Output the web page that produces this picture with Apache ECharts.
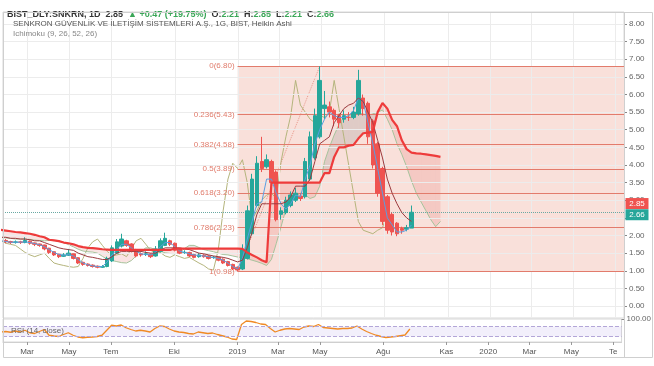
<!DOCTYPE html>
<html><head><meta charset="utf-8">
<script src="https://cdn.jsdelivr.net/npm/echarts@6/dist/echarts.min.js"></script>
<style>html,body{margin:0;padding:0;background:#fff}#c{width:654px;height:366px}</style>
</head><body><div id="c"></div>
<script>
// ---- data (weekly samples, first week 2018-01-22) ----
const firstWeek = '2018-01-22';
const haOpen = [1.88,1.86,1.83,1.80,1.82,1.80,1.84,1.79,1.76,1.73,
  1.64,1.54,1.47,1.41,1.44,1.48,1.37,1.24,1.19,1.16,
  1.13,1.10,1.12,1.28,1.50,1.70,1.85,1.76,1.60,1.48,
  1.46,1.47,1.42,1.55,1.72,1.85,1.78,1.62,1.52,1.52,
  1.46,1.40,1.44,1.42,1.38,1.38,1.33,1.26,1.18,1.10,
  1.05,1.35,2.05,2.85,4.10,3.95,4.10,3.80,2.60,2.65,
  2.85,3.00,3.12,3.10,3.60,4.20,4.80,5.60,5.65,5.55,
  5.40,5.30,5.35,5.35,5.45,5.90,5.75,5.25,4.60,3.90,
  3.10,2.60,2.35,2.20,2.18,2.21];
const haClose = [1.85,1.82,1.80,1.82,1.80,1.86,1.78,1.75,1.72,1.62,
  1.52,1.45,1.40,1.45,1.50,1.35,1.22,1.18,1.15,1.12,
  1.10,1.12,1.35,1.65,1.82,1.90,1.72,1.55,1.42,1.45,
  1.48,1.40,1.62,1.85,1.92,1.75,1.58,1.50,1.52,1.42,
  1.38,1.45,1.40,1.35,1.38,1.30,1.22,1.15,1.05,1.02,
  1.60,2.70,3.60,4.05,3.90,4.15,3.50,2.45,2.70,3.00,
  3.15,3.20,3.05,4.10,4.80,5.40,6.40,5.70,5.50,5.30,
  5.20,5.40,5.35,5.50,6.40,5.60,4.80,4.00,3.20,2.40,
  2.15,2.10,2.05,2.15,2.22,2.66];
const haLow = [1.80,1.78,1.76,1.77,1.76,1.78,1.74,1.70,1.68,1.58,
  1.48,1.42,1.36,1.39,1.42,1.32,1.19,1.14,1.12,1.09,
  1.07,1.08,1.10,1.25,1.48,1.66,1.68,1.52,1.38,1.40,
  1.42,1.36,1.40,1.52,1.70,1.70,1.55,1.47,1.48,1.39,
  1.35,1.37,1.37,1.32,1.34,1.27,1.19,1.12,1.02,0.98,
  1.02,1.32,2.00,2.80,3.80,3.90,3.40,2.40,2.45,2.60,
  2.80,2.95,2.98,3.05,3.55,4.15,4.75,5.30,5.35,5.10,
  5.05,5.20,5.25,5.30,5.40,5.40,4.60,3.90,3.10,2.30,
  2.05,2.00,1.98,2.05,2.12,2.21];
const haHigh = [1.92,1.90,1.85,1.86,1.85,1.95,1.86,1.80,1.77,1.74,
  1.65,1.55,1.48,1.50,1.62,1.49,1.38,1.26,1.21,1.18,
  1.15,1.16,1.40,1.72,1.90,2.05,1.88,1.78,1.62,1.52,
  1.55,1.49,1.70,1.92,2.08,1.88,1.80,1.64,1.58,1.54,
  1.48,1.50,1.47,1.44,1.42,1.40,1.35,1.28,1.20,1.12,
  1.75,2.85,3.75,4.25,4.80,4.30,4.15,3.85,2.80,3.10,
  3.25,3.35,3.20,4.20,4.95,5.60,6.80,6.10,5.80,5.60,
  5.45,5.55,5.50,5.65,6.70,6.00,5.80,5.30,4.65,3.95,
  3.15,2.65,2.38,2.25,2.30,2.85];
const tenkan = [1.85,1.83,1.81,1.81,1.81,1.82,1.80,1.77,1.74,1.68,
  1.60,1.52,1.46,1.44,1.46,1.42,1.32,1.22,1.17,1.14,
  1.12,1.12,1.25,1.45,1.60,1.75,1.75,1.65,1.55,1.48,
  1.46,1.45,1.52,1.68,1.80,1.80,1.68,1.56,1.52,1.48,
  1.45,1.43,1.42,1.40,1.37,1.35,1.30,1.22,1.12,1.05,
  1.35,1.90,2.40,2.90,2.95,3.60,3.60,3.20,2.90,2.75,
  2.90,3.15,3.10,3.60,4.00,4.60,5.00,5.30,5.50,5.40,
  5.35,5.35,5.40,5.55,5.90,5.80,5.20,4.60,3.90,3.20,
  2.50,2.30,2.10,2.10,2.15,2.30];
const kijun = [1.95,1.95,1.92,1.92,1.90,1.90,1.88,1.85,1.85,1.80,
  1.75,1.70,1.65,1.62,1.60,1.58,1.50,1.45,1.40,1.38,
  1.35,1.32,1.32,1.40,1.50,1.55,1.55,1.55,1.55,1.55,
  1.52,1.50,1.50,1.58,1.65,1.65,1.65,1.65,1.62,1.60,
  1.55,1.50,1.48,1.45,1.42,1.40,1.38,1.35,1.30,1.25,
  1.30,1.65,2.10,2.60,2.90,2.90,2.90,2.90,2.90,2.95,
  3.10,3.40,3.40,3.40,3.60,4.10,4.60,4.70,4.80,5.20,
  5.40,5.60,5.70,5.75,5.90,5.80,5.50,5.20,4.70,4.20,
  3.60,3.20,2.90,2.65,2.50,2.40];
const chikou = [1.86,1.78,1.75,1.72,1.62,1.52,1.45,1.40,1.45,1.50,
  1.35,1.22,1.18,1.15,1.12,1.10,1.12,1.35,1.65,1.82,
  1.90,1.72,1.55,1.42,1.45,1.48,1.40,1.62,1.85,1.92,
  1.75,1.58,1.50,1.52,1.42,1.38,1.45,1.40,1.35,1.38,
  1.30,1.22,1.15,1.05,1.02,1.60,2.70,3.60,4.05,3.90,
  4.15,3.50,2.45,2.70,3.00,3.15,3.20,3.05,4.10,4.80,
  5.40,6.40,5.70,5.50,5.30,5.20,5.40,5.35,5.50,6.40,
  5.60,4.80,4.00,3.20,2.40,2.15,2.10,2.05,2.15,2.22,
  2.66];
const leadA = [1.95,1.93,1.92,1.90,1.90,1.90,1.89,1.87,1.86,1.85,
  1.86,1.86,1.84,1.80,1.74,1.68,1.61,1.56,1.54,1.53,
  1.50,1.41,1.33,1.29,1.26,1.23,1.22,1.29,1.42,1.55,
  1.65,1.65,1.60,1.55,1.51,1.49,1.48,1.51,1.63,1.72,
  1.72,1.66,1.60,1.57,1.54,1.50,1.46,1.45,1.42,1.39,
  1.37,1.34,1.30,1.26,1.21,1.15,1.32,1.77,2.25,2.75,
  2.92,3.10,3.20,3.15,3.05,3.10,3.40,4.10,4.50,4.85,
  5.15,5.35,5.40,5.45,5.50,5.45,5.40,5.45,5.50,5.56,
  5.30,5.00,4.60,4.30,3.95,3.55,3.20,2.95,2.70,2.45,
  2.25,2.40];
const leadB = [2.16,2.14,2.12,2.10,2.09,2.07,2.05,2.02,1.98,1.95,
  1.88,1.86,1.84,1.80,1.78,1.75,1.70,1.67,1.65,1.64,
  1.63,1.61,1.60,1.59,1.59,1.59,1.59,1.59,1.59,1.59,
  1.59,1.59,1.59,1.59,1.59,1.59,1.63,1.63,1.63,1.63,
  1.63,1.63,1.63,1.63,1.63,1.63,1.63,1.63,1.63,1.63,
  1.62,1.52,1.45,1.38,1.30,1.24,3.50,3.50,3.50,3.50,
  3.50,3.50,3.50,3.50,3.50,3.50,3.50,3.77,3.77,4.23,
  4.50,4.50,4.55,4.57,4.75,4.90,4.92,4.94,5.50,5.76,
  5.60,5.28,5.10,4.70,4.45,4.35,4.33,4.32,4.30,4.28,
  4.26,4.23];
const rsi = [48,50,47,52,48,55,45,42,50,58,
  35,32,30,38,45,35,28,25,27,28,
  30,35,55,75,72,76,65,58,52,55,
  52,48,62,72,70,60,52,48,46,42,
  40,48,45,42,44,38,33,28,20,18,
  78,92,90,86,80,78,62,48,55,60,
  62,60,58,68,72,70,78,66,64,62,
  60,62,62,64,72,60,50,42,35,30,
  26,28,30,33,36,60];
const fibLevels = [0, 0.236, 0.382, 0.5, 0.618, 0.786, 1];
const fibPrices = [6.80, 5.43, 4.58, 3.89, 3.20, 2.23, 0.98];
const fibStart = '2018-12-31', fibEnd = '2019-04-29';
const lastHigh = 2.85, lastClose = 2.66;
const priceTicks = [0,0.5,1,1.5,2,2.5,3,3.5,4,4.5,5,5.5,6,6.5,7,7.5,8];
const timeTickDates = ['2018-03-01','2018-05-01','2018-07-01','2018-10-01','2019-01-01','2019-03-01','2019-05-01','2019-08-01','2019-11-01','2020-01-01','2020-03-01','2020-05-01','2020-07-01'];
const timeTickLabels = ['Mar','May','Tem','Eki','2019','Mar','May','Ağu','Kas','2020','Mar','May','Te'];
const xStart = '2018-01-25', xEnd = '2020-07-13';

// ---- build ----
const DAY = 86400000;
const t0 = Date.parse(firstWeek);
const weeks = leadB.map((_, i) => t0 + i * 7 * DAY);
const xMin = Date.parse(xStart), xMax = Date.parse(xEnd);
const pts = arr => arr.map((v, i) => [weeks[i], v]);
const candles = haClose.map((c, i) => [weeks[i], haOpen[i], c, haLow[i], haHigh[i]]);
const tickTs = timeTickDates.map(d => Date.parse(d));
const tickMap = {}; tickTs.forEach((t, i) => tickMap[t] = timeTickLabels[i]);
const cloud = leadA.map((a, i) => [weeks[i], a, leadB[i]]);
const fS = Date.parse(fibStart), fE = Date.parse(fibEnd);
const FONT = 'Liberation Sans';

const chart = echarts.init(document.getElementById('c'));
chart.setOption({
  animation: false,
  backgroundColor: '#fff',
  textStyle: { fontFamily: FONT },
  title: [
    { left: 2, top: 1, text: '{a|BIST_DLY:SNKRN, 1D} {b|2.85} {g|▲ +0.47 (+19.75%)} {b|O:}{g|2.21} {b|H:}{g|2.85} {b|L:}{g|2.21} {b|C:}{g|2.66}',
      textStyle: { rich: { a: { fontSize: 9, fontWeight: 'bold', color: '#333', fontFamily: FONT }, b: { fontSize: 9, color: '#333', fontFamily: FONT }, g: { fontSize: 9, color: '#3aa657', fontFamily: FONT } } } },
    { left: 8, top: 15, text: 'SENKRON GÜVENLİK VE İLETİŞİM SİSTEMLERİ A.Ş., 1G, BIST, Heikin Ashi', textStyle: { fontSize: 8, color: '#555', fontWeight: 'normal', fontFamily: FONT } },
    { left: 8, top: 25, text: 'Ichimoku (9, 26, 52, 26)', textStyle: { fontSize: 8, color: '#888', fontWeight: 'normal', fontFamily: FONT } },
    { left: 6, top: 322, text: 'RSI (14, close)', textStyle: { fontSize: 8, color: '#666', fontWeight: 'normal', fontFamily: FONT } },
    { left: 3, top: 359, text: '{k|Sağlayan:} {d|●} {t|TradingView}', textStyle: { rich: { k: { fontSize: 7, color: '#444', fontFamily: FONT }, d: { fontSize: 8, color: '#2d9cdb' }, t: { fontSize: 7, color: '#2d9cdb', fontFamily: FONT } } } }
  ],
  graphic: [
    { type: 'rect', silent: true, z: 100, shape: { x: 3.5, y: 12.5, width: 649, height: 345 }, style: { fill: null, stroke: '#cfcfcf', lineWidth: 1 } },
    { type: 'line', silent: true, z: 100, shape: { x1: 624.5, y1: 12, x2: 624.5, y2: 358 }, style: { stroke: '#cfcfcf', lineWidth: 1 } }
  ],
  grid: [
    { left: 3, right: 30, top: 12, height: 306, show: true, borderColor: '#d8d8d8', borderWidth: 1 },
    { left: 3, right: 30, top: 319, height: 23, show: true, borderColor: '#d8d8d8', borderWidth: 1 }
  ],
  xAxis: [
    { type: 'value', gridIndex: 0, min: xMin, max: xMax, show: false, splitLine: { show: false } },
    { type: 'value', gridIndex: 1, min: xMin, max: xMax,
      axisLine: { show: true, lineStyle: { color: '#cfcfcf' } },
      axisTick: { show: true, length: 3, customValues: tickTs, lineStyle: { color: '#999' } },
      splitLine: { show: false },
      axisLabel: { customValues: tickTs, fontSize: 8, color: '#555', margin: 6, fontFamily: FONT,
        formatter: v => tickMap[v] !== undefined ? tickMap[v] : '' } }
  ],
  yAxis: [
    { type: 'value', gridIndex: 0, position: 'right', min: -0.34, max: 8.34,
      axisLine: { show: false },
      axisTick: { show: true, length: 3, customValues: priceTicks, lineStyle: { color: '#888' } },
      splitLine: { show: false },
      axisLabel: { customValues: priceTicks, fontSize: 8, color: '#666', margin: 5, fontFamily: FONT, formatter: v => v.toFixed(2) } },
    { type: 'value', gridIndex: 1, position: 'right', min: 8, max: 100,
      axisLine: { show: false }, splitLine: { show: false },
      axisTick: { show: true, length: 3, customValues: [100], lineStyle: { color: '#888' } },
      axisLabel: { customValues: [100], fontSize: 8, color: '#666', margin: 5, fontFamily: FONT, formatter: v => v.toFixed(2) } }
  ],
  series: [
    { // grid lines
      type: 'line', xAxisIndex: 0, yAxisIndex: 0, data: [[xMin, null]], symbol: 'none', silent: true, z: 1,
      markLine: { silent: true, symbol: 'none', label: { show: false }, animation: false,
        lineStyle: { color: '#ececec', type: 'solid', width: 1 },
        data: priceTicks.map(v => ({ yAxis: v })).concat(tickTs.map(t => ({ xAxis: t }))) }
    },
    { // fibonacci retracement
      type: 'line', xAxisIndex: 0, yAxisIndex: 0, z: 2, symbol: 'none', silent: true,
      data: [[fS, fibPrices[fibPrices.length - 1]], [fE, fibPrices[0]]],
      lineStyle: { color: '#e8978a', type: 'dotted', width: 1 },
      markArea: { silent: true, itemStyle: { color: '#f9e0da' },
        data: [[{ coord: [fS, fibPrices[fibPrices.length - 1]] }, { coord: [xMax, fibPrices[0]] }]] },
      markLine: { silent: true, symbol: 'none', animation: false,
        lineStyle: { color: '#e27b6c', type: 'solid', width: 1 },
        label: { show: true, position: 'start', formatter: '{b}', color: '#e07b6b', fontSize: 8, distance: 3, fontFamily: FONT },
        data: fibPrices.map((p, k) => [{ name: fibLevels[k] + '(' + p.toFixed(2) + ')', coord: [fS, p] }, { coord: [xMax, p] }]) }
    },
    { // cloud
      type: 'custom', xAxisIndex: 0, yAxisIndex: 0, z: 3, silent: true, clip: true,
      data: cloud, encode: { x: 0, y: [1, 2] },
      renderItem(params, api) {
        const i = params.dataIndex;
        if (i >= cloud.length - 1) return;
        const p = cloud[i], q = cloud[i + 1];
        const up = p[1] + q[1] >= p[2] + q[2];
        return { type: 'polygon',
          shape: { points: [api.coord([p[0], p[1]]), api.coord([q[0], q[1]]), api.coord([q[0], q[2]]), api.coord([p[0], p[2]])] },
          style: { fill: up ? 'rgba(120,120,120,0.2)' : 'rgba(225,90,85,0.17)' } };
      }
    },
    { name: 'Lagging', type: 'line', xAxisIndex: 0, yAxisIndex: 0, z: 4, data: pts(chikou), symbol: 'none', lineStyle: { color: '#b4b47c', width: 1 } },
    { name: 'LeadA', type: 'line', xAxisIndex: 0, yAxisIndex: 0, z: 4, data: pts(leadA), symbol: 'none', lineStyle: { color: '#a6c39c', width: 1 } },
    { name: 'HA', type: 'candlestick', xAxisIndex: 0, yAxisIndex: 0, z: 5, data: candles, encode: { x: 0, y: [1, 2, 3, 4] }, barWidth: 4,
      itemStyle: { color: '#26a69a', color0: '#ef5350', borderColor: '#26a69a', borderColor0: '#ef5350', borderWidth: 1 } },
    { name: 'Conversion', type: 'line', xAxisIndex: 0, yAxisIndex: 0, z: 6, data: pts(tenkan), symbol: 'none', lineStyle: { color: '#5b9ee0', width: 1 } },
    { name: 'Base', type: 'line', xAxisIndex: 0, yAxisIndex: 0, z: 6, data: pts(kijun), symbol: 'none', lineStyle: { color: '#9a3a3e', width: 1 } },
    { name: 'LeadB', type: 'line', xAxisIndex: 0, yAxisIndex: 0, z: 7, data: pts(leadB), symbol: 'none', lineStyle: { color: '#ee3b3b', width: 2.2 } },
    { // last price line + tags
      type: 'line', xAxisIndex: 0, yAxisIndex: 0, z: 8, data: [[xMax, lastClose]], symbol: 'none', clip: false, silent: true,
      markLine: { silent: true, symbol: 'none', label: { show: false }, lineStyle: { color: '#6aa9a3', type: 'dotted', width: 1 },
        data: [{ yAxis: lastClose }] },
      markPoint: { silent: true, data: [
        { coord: [xMax, lastHigh], symbol: 'rect', symbolSize: [23, 11], symbolOffset: [13, -2], itemStyle: { color: '#ef5350' },
          label: { show: true, position: 'inside', formatter: lastHigh.toFixed(2), color: '#fff', fontSize: 8, fontFamily: FONT } },
        { coord: [xMax, lastClose], symbol: 'rect', symbolSize: [23, 11], symbolOffset: [13, 2.5], itemStyle: { color: '#26a69a' },
          label: { show: true, position: 'inside', formatter: lastClose.toFixed(2), color: '#fff', fontSize: 8, fontFamily: FONT } }
      ] }
    },
    { name: 'RSI', type: 'line', xAxisIndex: 1, yAxisIndex: 1, z: 4, data: pts(rsi), symbol: 'none', lineStyle: { color: '#f08a24', width: 1.3 },
      markArea: { silent: true, itemStyle: { color: 'rgba(150,120,220,0.12)' }, data: [[{ yAxis: 70 }, { yAxis: 30 }]] },
      markLine: { silent: true, symbol: 'none', label: { show: false }, lineStyle: { color: '#b3a6d8', type: 'dashed', width: 1 },
        data: [{ yAxis: 70 }, { yAxis: 30 }] } }
  ]
});
</script></body></html>
